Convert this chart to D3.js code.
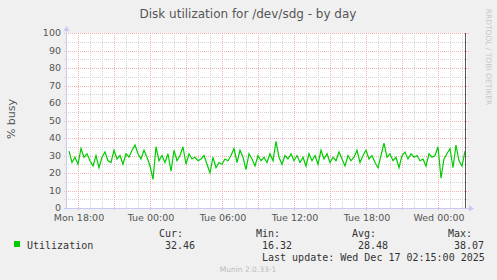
<!DOCTYPE html>
<html>
<head>
<meta charset="utf-8">
<script src="https://cdn.jsdelivr.net/npm/d3@7"></script>
<style>
  body { margin: 0; background: #f0f0f0; }
  svg { display: block; }
</style>
</head>
<body>
<script>
// chart data
const title = "Disk utilization for /dev/sdg - by day";
const yLabel = "% busy";
const seriesName = "Utilization";
const startTime = new Date(2025, 11, 15, 17, 15);
const stepMinutes = 15;
const utilization = [
  32.5, 26, 29, 25, 34, 29, 31, 27, 24, 30,
  23, 29, 32, 27, 26, 33, 28, 30, 25, 31,
  29, 33, 36, 31, 28, 33, 29, 24, 16.32, 35,
  27, 30, 26, 31, 21, 33, 27, 30, 35, 25,
  31, 28, 29, 27, 28, 30, 25, 20, 29, 23,
  26, 25, 28, 27, 30, 34, 26, 33, 29, 22,
  31, 28, 24, 30, 27, 29, 26, 31, 27, 38.07,
  29, 25, 30, 28, 31, 27, 30, 26, 29, 24,
  31, 27, 30, 25, 33, 28, 31, 26, 29, 27,
  32, 28, 24, 30, 27, 29, 33, 26, 30, 33,
  28, 30, 26, 23, 30, 37, 29, 31, 27, 29,
  23, 30, 32, 28, 31, 29, 30, 27, 28, 24,
  31, 29, 30, 35, 17, 28, 31, 34, 23, 36,
  27, 24, 32.46
];
const yTicks = [0, 10, 20, 30, 40, 50, 60, 70, 80, 90, 100];
const statHeaders = ["Cur:", "Min:", "Avg:", "Max:"];
const statValues = ["32.46", "16.32", "28.48", "38.07"];
const lastUpdate = "Last update: Wed Dec 17 02:15:00 2025";
const viewStart = new Date(2025, 11, 15, 17, 5);
const viewEnd = new Date(2025, 11, 17, 2, 25);
const nowTime = new Date(2025, 11, 17, 2, 15);

const width = 497, height = 280;
const plot = { left: 67, right: 467, top: 33, bottom: 208 };

const data = utilization.map((v, i) => ({
  t: new Date(startTime.getTime() + i * stepMinutes * 60000),
  v: v
}));

const svg = d3.select('body')
  .append('svg')
  .attr('width', width)
  .attr('height', height);

svg.append('rect')
  .attr('width', width)
  .attr('height', height)
  .attr('fill', '#f0f0f0');

const x = d3.scaleTime()
  .domain([viewStart, viewEnd])
  .range([plot.left, plot.right]);

const y = d3.scaleLinear()
  .domain([0, 100])
  .range([plot.bottom, plot.top]);

// canvas
svg.append('rect')
  .attr('x', plot.left)
  .attr('y', plot.top)
  .attr('width', plot.right - plot.left)
  .attr('height', plot.bottom - plot.top)
  .attr('fill', '#ffffff');

// minor grid
const minorColor = '#d4d4d4';
const majorColor = '#f2b4b4';
const minorX = x.ticks(d3.timeHour.every(1));
svg.append('g').selectAll('line')
  .data(minorX)
  .enter().append('line')
  .attr('x1', d => Math.round(x(d)) + 0.5)
  .attr('x2', d => Math.round(x(d)) + 0.5)
  .attr('y1', plot.top)
  .attr('y2', plot.bottom)
  .attr('stroke', minorColor)
  .attr('stroke-dasharray', '1,1');

const minorY = d3.range(5, 100, 10);
svg.append('g').selectAll('line')
  .data(minorY)
  .enter().append('line')
  .attr('x1', plot.left - 3)
  .attr('x2', plot.right + 3)
  .attr('y1', d => Math.round(y(d)) + 0.5)
  .attr('y2', d => Math.round(y(d)) + 0.5)
  .attr('stroke', minorColor)
  .attr('stroke-dasharray', '1,1');

// major grid
const majorX = x.ticks(d3.timeHour.every(3));
svg.append('g').selectAll('line')
  .data(majorX)
  .enter().append('line')
  .attr('x1', d => Math.round(x(d)) + 0.5)
  .attr('x2', d => Math.round(x(d)) + 0.5)
  .attr('y1', plot.top)
  .attr('y2', plot.bottom + 3)
  .attr('stroke', majorColor)
  .attr('stroke-dasharray', '1,1');

svg.append('g').selectAll('line')
  .data(yTicks)
  .enter().append('line')
  .attr('x1', plot.left - 3)
  .attr('x2', plot.right + 3)
  .attr('y1', d => Math.round(y(d)) + 0.5)
  .attr('y2', d => Math.round(y(d)) + 0.5)
  .attr('stroke', majorColor)
  .attr('stroke-dasharray', '1,1');

// y tick labels
svg.append('g').selectAll('text')
  .data(yTicks)
  .enter().append('text')
  .attr('x', plot.left - 6)
  .attr('y', d => y(d) + 3)
  .attr('text-anchor', 'end')
  .attr('font-family', 'DejaVu Sans')
  .attr('font-size', 9.5)
  .attr('fill', '#555')
  .text(d => d);

// x tick labels
const fmt = d3.timeFormat('%a %H:%M');
svg.append('g').selectAll('text')
  .data(x.ticks(d3.timeHour.every(6)))
  .enter().append('text')
  .attr('x', d => x(d) + 1)
  .attr('y', plot.bottom + 12.5)
  .attr('text-anchor', 'middle')
  .attr('font-family', 'DejaVu Sans')
  .attr('font-size', 9.5)
  .attr('fill', '#555')
  .text(d => fmt(d));

// axes
const axisColor = '#c8c8f4';
svg.append('line')
  .attr('x1', plot.left - 0.5).attr('x2', plot.left - 0.5)
  .attr('y1', plot.top - 3).attr('y2', plot.bottom + 0.5)
  .attr('stroke', axisColor);
svg.append('line')
  .attr('x1', plot.left - 3).attr('x2', plot.right + 3)
  .attr('y1', plot.bottom + 0.5).attr('y2', plot.bottom + 0.5)
  .attr('stroke', axisColor);
svg.append('path')
  .attr('d', `M${plot.left - 3.5},${plot.top - 2} L${plot.left + 2.5},${plot.top - 2} L${plot.left - 0.5},${plot.top - 7} Z`)
  .attr('fill', axisColor);
svg.append('path')
  .attr('d', `M${plot.right + 2},${plot.bottom - 2.5} L${plot.right + 2},${plot.bottom + 3.5} L${plot.right + 7},${plot.bottom + 0.5} Z`)
  .attr('fill', axisColor);

// data line
const line = d3.line()
  .x(d => x(d.t))
  .y(d => y(d.v));

svg.append('path')
  .datum(data)
  .attr('d', line)
  .attr('fill', 'none')
  .attr('stroke', '#00cc00')
  .attr('stroke-width', 1.2);

// last update marker
svg.append('line')
  .attr('x1', Math.round(x(nowTime)) + 0.5)
  .attr('x2', Math.round(x(nowTime)) + 0.5)
  .attr('y1', plot.top)
  .attr('y2', plot.bottom)
  .attr('stroke', '#555');

// title and labels
svg.append('text')
  .attr('x', 248)
  .attr('y', 18)
  .attr('text-anchor', 'middle')
  .attr('font-family', 'DejaVu Sans')
  .attr('font-size', 12)
  .attr('fill', '#555')
  .text(title);

svg.append('text')
  .attr('transform', 'translate(15,119) rotate(-90)')
  .attr('text-anchor', 'middle')
  .attr('font-family', 'DejaVu Sans')
  .attr('font-size', 11)
  .attr('fill', '#555')
  .text(yLabel);

svg.append('text')
  .attr('transform', 'translate(486,57) rotate(90)')
  .attr('text-anchor', 'middle')
  .attr('font-family', 'DejaVu Sans')
  .attr('font-size', 7.5)
  .attr('fill', '#c8c8c8')
  .text('RRDTOOL / TOBI OETIKER');

// legend
const mono = 'DejaVu Sans Mono';
svg.append('rect')
  .attr('x', 14).attr('y', 241)
  .attr('width', 6).attr('height', 6)
  .attr('fill', '#00cc00');
svg.append('text')
  .attr('x', 27).attr('y', 248.5)
  .attr('font-family', mono).attr('font-size', 10)
  .attr('fill', '#333')
  .text(seriesName);

const colX = [159, 256, 352, 448];
svg.append('g').selectAll('text')
  .data(statHeaders)
  .enter().append('text')
  .attr('x', (d, i) => colX[i])
  .attr('y', 236.5)
  .attr('font-family', mono).attr('font-size', 10)
  .attr('fill', '#333')
  .text(d => d);
svg.append('g').selectAll('text')
  .data(statValues)
  .enter().append('text')
  .attr('x', (d, i) => colX[i] + 6)
  .attr('y', 248.5)
  .attr('font-family', mono).attr('font-size', 10)
  .attr('fill', '#333')
  .text(d => d);
svg.append('text')
  .attr('x', 262).attr('y', 260.5)
  .attr('font-family', mono).attr('font-size', 10)
  .attr('fill', '#333')
  .text(lastUpdate);

svg.append('text')
  .attr('x', 248).attr('y', 272)
  .attr('text-anchor', 'middle')
  .attr('font-family', 'DejaVu Sans')
  .attr('font-size', 7.5)
  .attr('fill', '#bbb')
  .text('Munin 2.0.33-1');
</script>
</body>
</html>
